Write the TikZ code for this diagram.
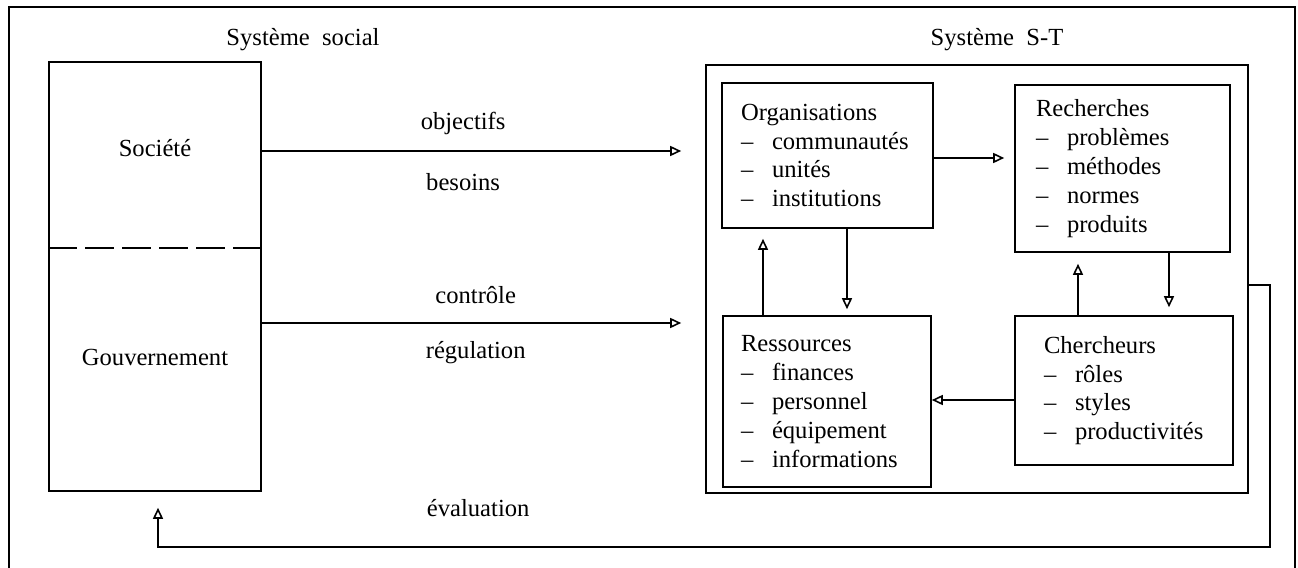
\documentclass[tikz,border=0pt]{standalone}
\usepackage{fontspec}
\setmainfont{Liberation Serif}
\usetikzlibrary{arrows.meta,positioning,calc}
\newcommand{\itm}[1]{\\\makebox[15.5pt][l]{–}#1}

\begin{document}
\begin{tikzpicture}[x=0.5pt,y=-0.5pt,line width=0.8pt,
  font=\fontsize{12.3}{14.4}\selectfont,
  box/.style={draw,align=left,inner ysep=0pt},
  arr/.style={-{Triangle[open,length=5.5pt,width=5pt]}}]
\useasboundingbox (0,0) rectangle (1298,568);
\draw (9,568) -- (9,7) -- (1295,7) -- (1295,568);
\node (tsoc) at (303,40) {Système\ \ social};
\node (tst) at (997,40) {Système\ \ S-T};
\node[draw,minimum width=106pt,minimum height=214.5pt] (sys) at (155,276.5) {};
\draw[dash pattern=on 14.5pt off 4pt] (sys.west |- 0,248) -- (sys.east |- 0,248);
\node (societe) at (155,148) {Société};
\node (gouv) at (155,357) {Gouvernement};
\node[draw,minimum width=271pt,minimum height=214pt] (st) at (977,279) {};
\node[box,text width=86.5pt,inner xsep=9.5pt,minimum height=72.5pt] (org) at (827.5,155.5)
  {Organisations\itm{communautés}\itm{unités}\itm{institutions}};
\node[box,text width=86.5pt,inner xsep=10.5pt,minimum height=83.5pt] (rech) at (1122.5,168.5)
  {Recherches\itm{problèmes}\itm{méthodes}\itm{normes}\itm{produits}};
\node[box,text width=86pt,inner xsep=9pt,minimum height=85.5pt] (res) at (827,401.5)
  {Ressources\itm{finances}\itm{personnel}\itm{équipement}\itm{informations}};
\node[box,text width=80pt,inner xsep=14.5pt,minimum height=74.5pt] (cher) at (1124,390.5)
  {Chercheurs\itm{rôles}\itm{styles}\itm{productivités}};
\draw[arr] (sys.east |- 0,151) -- ([xshift=-12pt]st.west |- 0,151)
  node[pos=0.48,yshift=14pt]{objectifs} node[pos=0.48,yshift=-15.5pt]{besoins};
\draw[arr] (sys.east |- 0,323) -- ([xshift=-12pt]st.west |- 0,323)
  node[pos=0.51,yshift=14pt]{contrôle} node[pos=0.51,yshift=-15pt]{régulation};
\draw[arr,shorten >=5pt] ([yshift=-1.25pt]org.east) -- ([yshift=-1.25pt]org.east -| rech.west);
\draw[arr,shorten >=3pt] ([xshift=9.75pt]org.south) -- ([xshift=9.75pt]org.south |- res.north);
\draw[arr,shorten >=5pt] ([xshift=-32pt]res.north) -- ([xshift=-32pt]res.north |- org.south);
\draw[arr,shorten >=4pt] ([xshift=23.25pt]rech.south) -- ([xshift=23.25pt]rech.south |- cher.north);
\draw[arr,shorten >=5.5pt] ([xshift=-23pt]cher.north) -- ([xshift=-23pt]cher.north |- rech.south);
\draw[arr] ([yshift=-4.75pt]cher.west) -- ([yshift=-4.75pt]cher.west -| res.east);
\coordinate (fb) at ([xshift=1.5pt,yshift=-27.5pt]sys.south);
\draw[arr,shorten >=8pt] ([yshift=-3pt]st.east) -- ++(10.5pt,0) |- (fb)
  node[pos=0.856,yshift=19.5pt]{évaluation} -- ([xshift=1.5pt]sys.south);
\end{tikzpicture}
\end{document}
